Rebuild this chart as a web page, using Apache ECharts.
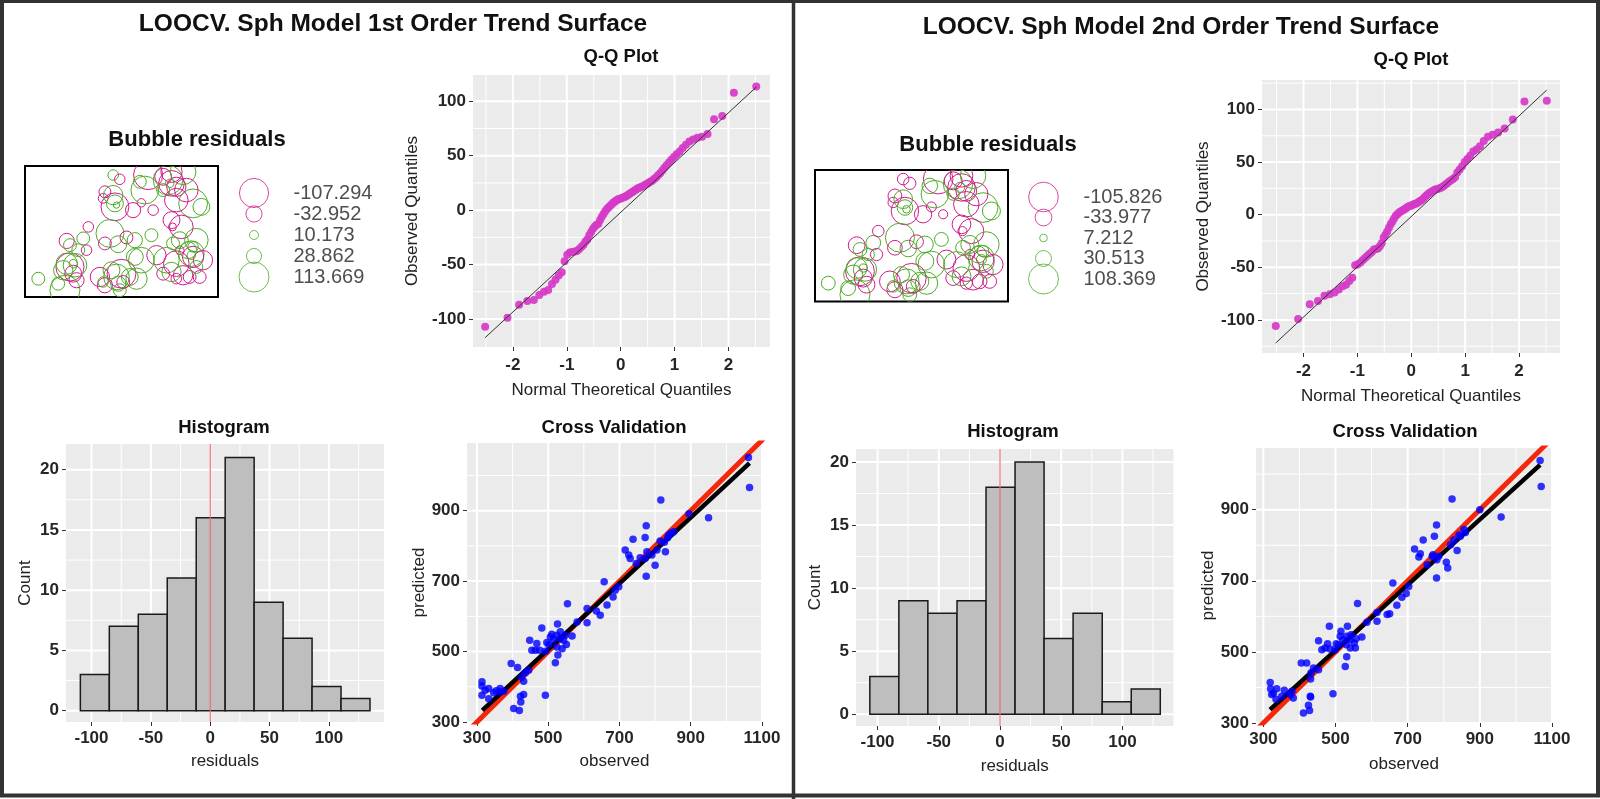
<!DOCTYPE html>
<html><head><meta charset="utf-8">
<script src="https://cdn.jsdelivr.net/npm/echarts@6.0.0/dist/echarts.min.js"></script>
<style>html,body{margin:0;padding:0;background:#fff}#c{width:1600px;height:799px}</style>
</head><body><div id="c"></div>
<script>
// ---------------- DATA ----------------
const TITLE_L = 'LOOCV. Sph Model 1st Order Trend Surface';
const TITLE_R = 'LOOCV. Sph Model 2nd Order Trend Surface';

// theoretical normal quantiles (n = 84)
const Q_THEO = [-2.515,-2.100,-1.884,-1.732,-1.611,-1.510,-1.423,-1.345,-1.274,-1.210,-1.150,-1.094,-1.041,-0.992,-0.944,-0.898,-0.854,-0.812,-0.772,-0.732,-0.693,-0.656,-0.619,-0.583,-0.548,-0.514,-0.480,-0.447,-0.414,-0.382,-0.350,-0.319,-0.287,-0.256,-0.226,-0.195,-0.165,-0.135,-0.105,-0.075,-0.045,-0.015,
0.015,0.045,0.075,0.105,0.135,0.165,0.195,0.226,0.256,0.287,0.319,0.350,0.382,0.414,0.447,0.480,0.514,0.548,0.583,0.619,0.656,0.693,0.732,0.772,0.812,0.854,0.898,0.944,0.992,1.041,1.094,1.150,1.210,1.274,1.345,1.423,1.510,1.611,1.732,1.884,2.100,2.515];

const QQ_OBS_L = [-107.3,-99,-87,-83.5,-82.5,-78,-75,-73.5,-68,-64,-60,-57,-47,-41,-39,-38.5,-38,-37.5,
-36,-34,-32,-29,-27,-23,-20,-17,-15,-13.5,-12.5,-9,-6,-3.5,-1,1,2.5,4,5.5,7,8,9,10,10.5,11,11.5,12,
13,14,15,16,17,18,19,20,20.5,21.5,22,23,24,25,26,27,28.5,30,32,34,36.5,39,41.5,44,46.5,49,51.5,54,57,60,
63,65,66.5,67.5,70,83.5,86.5,108,113.7];
const QQ_OBS_R = [-105.8,-99,-85,-82,-77,-75.5,-74,-71,-68,-66.5,-63,-60,-48,-47,-45.5,-43,-41,-39,-37,-35.5,
-33,-32.5,-32,-30,-27,-22,-19,-16,-12.5,-9,-6.5,-3.5,-1,0.5,2,3,4,5,6,7,8,8.5,9,10,10.5,11,12,
13,14,15.5,17,18.5,20,21,22,23,24,24.5,25,25.5,26.5,28,29.5,31,32.5,34,35.5,40,43,46,50,53,56,
60,62,65,70,74,76,78,82,90.5,107.5,108.4];
const QQ_LINE_L = [[-2.515,-117.2],[2.515,113.1]];
const QQ_LINE_R = [[-2.515,-121.9],[2.515,118.5]];

const HIST_EDGES_L = [-109.4,-85.0,-60.6,-36.2,-11.8,12.6,37.0,61.4,85.8,110.2,134.6];
const HIST_COUNTS_L = [3,7,8,11,16,21,9,6,2,1];
const HIST_EDGES_R = [-106.3,-82.6,-58.9,-35.1,-11.4,12.3,36.0,59.7,83.5,107.2,130.9];
const HIST_COUNTS_R = [3,9,8,9,18,20,6,8,1,2];
const HIST_REF = 0;

const CV_OBS_L = [1062,1065,816,895,950,775,772,738,844,835,826,716,730,747,772,791,805,800,829,775,657,698,682,665,646,609,609,554,526,482,510,524,534,543,551,567,515,501,448,464,476,492,527,520,396,414,445,436,426,431,314,314,314,333,333,354,365,492,431,423,403,419,422,506,534,548,539,524,496,454,468,365,323,347,375,814,852,838,758,726,688,635,581,777];
const CV_PRED_L = [1051,966,930,891,880,857,824,819,836,823,810,788,764,750,764,774,788,745,783,714,698,684,655,632,603,622,582,636,578,567,549,546,537,532,520,544,534,520,532,504,504,501,490,468,466,455,447,440,428,416,414,402,376,395,366,389,385,376,378,357,338,333,373,541,556,546,508,513,526,504,523,395,390,383,387,814,840,830,766,774,674,615,584,783];
const CV_OBS_R = [1067,1070,823,900,959,780,774,743,856,842,828,719,731,754,770,786,807,811,837,780,659,703,684,670,650,615,615,561,533,483,515,531,541,552,555,573,520,508,453,471,485,499,531,527,405,420,453,439,432,431,319,320,323,337,335,358,374,493,430,425,411,428,431,513,543,557,541,530,502,462,478,379,328,351,383,819,860,846,768,735,696,643,587,781];
const CV_PRED_R = [1038,965,930,900,879,857,825,815,844,829,815,789,767,745,773,769,752,736,785,708,694,684,654,631,607,611,586,636,572,572,558,544,534,525,511,542,534,520,531,511,508,506,486,459,469,469,450,455,441,424,414,396,380,396,367,392,380,382,375,350,328,335,373,544,548,537,511,520,523,506,523,389,384,375,370,801,836,825,769,776,664,605,583,759];
const CV_FIT_L = [[315,333],[1065,1035]];
const CV_FIT_R = [[318.5,337.5],[1067,1026]];
const CV_IDENTITY = [[250,250],[1150,1150]];

// bubble plot: sample locations (same for both models) and residuals
const BUB_X = [45.7,49.1,41.4,40.5,46.6,46.6,47.4,56.0,60.3,63.8,74.1,75.9,75.0,71.6,78.4,81.9,87.1,78.4,75.9,76.4,81.0,88.8,80.2,44.0,48.3,52.6,56.9,68.1,60.3,86.2,87.1,86.2,92.2,78.4,81.9,85.3,90.5,75.9,73.3,50.0,47.4,48.3,54.3,57.8,49.1,23.3,25.9,25.0,21.6,23.3,30.2,27.6,20.7,6.9,38.8,41.4,40.5,21.6,25.0,19.8,62.1,56.9,75.9,71.6,83.6,80.2,84.5,87.1,71.6,78.4,88.8,45.7,50.9,44.8,26.7,17.2,31.9,76.7,41.4,66.4,59.5,91.4,32.8,65.5];
const BUB_Y = [63.3,61.1,54.6,51.2,46.8,48.6,47.7,45.1,48.9,63.3,60.7,59.0,59.0,62.4,57.2,65.0,48.6,50.3,39.9,36.4,36.4,29.5,29.5,33.0,27.4,30.9,29.5,21.7,19.1,22.5,20.8,21.7,19.1,17.3,11.3,10.4,10.4,13.0,19.1,12.1,10.4,6.9,10.4,9.5,3.5,15.6,16.5,17.3,29.1,26.9,30.4,24.3,3.5,9.5,10.4,6.1,7.8,17.3,12.1,13.9,55.5,20.8,65.0,55.5,55.5,24.3,24.3,26.0,12.1,9.5,15.6,52.9,7.8,13.9,8.7,6.9,24.3,27.8,27.8,45.1,59.8,46.8,36.4,32.1];
const BUB_RES_L = [14,-14,-18,-12,-98,36,5,-29,-9,-107.3,110,-83,9,-36,-47,83,105,-70,-36,-8,-70,70,36,98,36,-21,29,-47,83,83,-57,9,-47,-83,-47,-21,-21,47,83,-105,83,29,36,57,21,-100,70,9,-29,21,21,21,113.7,21,-47,-29,14,57,-36,47,98,36,-57,21,-70,-9,36,14,-21,-14,21,47,-21,36,-29,21,-14,21,-21,-14,21,36,-14,21];
const BUB_RES_R = [-16,-18,-23,-13,-91,29,7,-36,-12,-105.8,104,-91,12,-39,-52,78,106,-78,-42,-10,-75,78,39,101,33,-23,34,-43,86,78,-60,12,-49,-86,-52,-26,-23,43,81,-104,75,33,39,60,23,-100,65,8,-34,23,26,18,108.4,23,-52,-31,16,52,-39,44,91,39,-62,18,-65,-12,34,16,-26,-18,23,42,-23,31,-34,26,-18,26,-26,-10,29,39,-16,23];
const BUB_LEG_L = [-107.294,-32.952,10.173,28.862,113.669];
const BUB_LEG_R = [-105.826,-33.977,7.212,30.513,108.369];

// tick values
const QQ_X_MAJOR = [-2,-1,0,1,2], QQ_X_MINOR = [-2.5,-1.5,-0.5,0.5,1.5,2.5];
const QQ_Y_MAJOR = [-100,-50,0,50,100], QQ_Y_MINOR_L = [-75,-25,25,75], QQ_Y_MINOR_R = [-125,-75,-25,25,75,125];
const HIST_X_MAJOR = [-100,-50,0,50,100], HIST_X_MINOR = [-75,-25,25,75,125];
const HIST_Y_MAJOR = [0,5,10,15,20], HIST_Y_MINOR = [2.5,7.5,12.5,17.5];
const CV_X_MAJOR = [300,500,700,900,1100], CV_X_MINOR = [400,600,800,1000];
const CV_Y_MAJOR = [300,500,700,900], CV_Y_MINOR = [400,600,800,1000];

// ---------------- STYLE / BUILD ----------------
const FONT = '"Liberation Sans", Arial, Helvetica, sans-serif';
const PINK = '#d01c8b', GREEN = '#4dac26';
const MAGENTA = '#D63AC8', BLUE = '#0000FF', RED = '#F5260A';
const grids = [], xAxes = [], yAxes = [], series = [];

function addGrid(r, extra) {
  grids.push(Object.assign({left: r[0], top: r[1], width: r[2], height: r[3], show: true,
    backgroundColor: '#EBEBEB', borderWidth: 0, containLabel: false, outerBoundsMode: 'none'}, extra || {}));
  return grids.length - 1;
}
function mainAxis(gi, pos, c) {
  return {type: 'value', gridIndex: gi, position: pos, min: c.min, max: c.max,
    axisLine: {show: false, onZero: false},
    axisTick: {show: true, length: 4, lineStyle: {color: '#333', width: 1}, customValues: c.major},
    axisLabel: {show: true, customValues: c.major, margin: c.margin, fontFamily: FONT, fontSize: 17,
      fontWeight: 'bold', color: '#262626', formatter: v => String(v)},
    splitLine: {show: false}, minorTick: {show: false}, minorSplitLine: {show: false},
    name: c.name, nameLocation: 'middle', nameGap: c.nameGap,
    nameTextStyle: {fontFamily: FONT, fontSize: 17, color: '#222'}};
}
function gridLineSeries(ax, xc, yc) {
  const items = [];
  xc.minor.forEach(v => items.push([0, v, 1]));
  yc.minor.forEach(v => items.push([1, v, 1]));
  xc.major.forEach(v => items.push([0, v, 2]));
  yc.major.forEach(v => items.push([1, v, 2]));
  return {type: 'custom', xAxisIndex: ax.x, yAxisIndex: ax.y, silent: true, z: 1, clip: true,
    data: items,
    renderItem: (p, api) => {
      const o = api.value(0), v = api.value(1), w = api.value(2);
      const a = o === 0 ? api.coord([v, yc.min]) : api.coord([xc.min, v]);
      const b = o === 0 ? api.coord([v, yc.max]) : api.coord([xc.max, v]);
      return {type: 'line', shape: {x1: a[0], y1: a[1], x2: b[0], y2: b[1]},
        style: {stroke: '#FFFFFF', lineWidth: w}};
    }};
}
function addPlot(rect, xc, yc) {
  const gi = addGrid(rect);
  const xi = xAxes.length; xAxes.push(mainAxis(gi, 'bottom', xc));
  const yi = yAxes.length; yAxes.push(mainAxis(gi, 'left', yc));
  const ax = {x: xi, y: yi};
  series.push(gridLineSeries(ax, xc, yc));
  return ax;
}
function addHidden(rect, xr, yr, extra, inverseY) {
  const gi = addGrid(rect, Object.assign({backgroundColor: 'rgba(0,0,0,0)', show: false}, extra || {}));
  const xi = xAxes.length; xAxes.push({type: 'value', gridIndex: gi, min: xr[0], max: xr[1], show: false, axisLine: {onZero: false}});
  const yi = yAxes.length; yAxes.push({type: 'value', gridIndex: gi, min: yr[0], max: yr[1], show: false, inverse: !!inverseY, axisLine: {onZero: false}});
  return {x: xi, y: yi};
}
function diam(v, maxAbs) { return 30 * Math.sqrt(Math.abs(v) / maxAbs); }

function bubblePanel(boxRect, legRect, res, leg) {
  const maxAbs = Math.max.apply(null, leg.map(Math.abs));
  const ax = addHidden(boxRect, [0, 100], [0, 68], {show: true, backgroundColor: '#fff', borderColor: '#000', borderWidth: 2});
  series.push({type: 'custom', xAxisIndex: ax.x, yAxisIndex: ax.y, clip: true, silent: true, z: 3,
    encode: {x: 0, y: 1},
    data: BUB_X.map((x, i) => [x, BUB_Y[i], res[i]]),
    renderItem: (p, api) => {
      const c = api.coord([api.value(0), api.value(1)]); const v = api.value(2);
      return {type: 'circle', shape: {cx: c[0], cy: c[1], r: diam(v, maxAbs) / 2},
        style: {fill: 'none', stroke: v < 0 ? PINK : GREEN, lineWidth: 1}};
    }});
  const lg = addHidden(legRect, [0, 1], [-0.5, 4.5], null, true);
  series.push({type: 'scatter', xAxisIndex: lg.x, yAxisIndex: lg.y, clip: false, silent: true,
    data: leg.map((v, i) => ({value: [0, i, v], symbolSize: diam(v, maxAbs),
      itemStyle: {color: 'rgba(0,0,0,0)', borderColor: v < 0 ? PINK : GREEN, borderWidth: 1}}))});
  series.push({type: 'scatter', xAxisIndex: lg.x, yAxisIndex: lg.y, clip: false, silent: true, symbolSize: 1,
    itemStyle: {color: 'rgba(0,0,0,0)'},
    label: {show: true, position: 'right', distance: 0, fontFamily: FONT, fontSize: 20, color: '#222',
      formatter: p => p.value[2].toFixed(3)},
    data: leg.map((v, i) => [1, i, v])});
}

function qqPanel(rect, xr, yr, yMinor, obs, line) {
  const ax = addPlot(rect,
    {min: xr[0], max: xr[1], major: QQ_X_MAJOR, minor: QQ_X_MINOR, margin: 10, name: 'Normal Theoretical Quantiles', nameGap: 35},
    {min: yr[0], max: yr[1], major: QQ_Y_MAJOR, minor: yMinor, margin: 7, name: 'Observed Quantiles', nameGap: yr[2]});
  series.push({type: 'scatter', xAxisIndex: ax.x, yAxisIndex: ax.y, symbolSize: 8, silent: true, z: 3,
    itemStyle: {color: MAGENTA, opacity: 0.92}, data: Q_THEO.map((q, i) => [q, obs[i]])});
  series.push({type: 'line', xAxisIndex: ax.x, yAxisIndex: ax.y, symbol: 'none', silent: true, z: 4,
    lineStyle: {color: '#333', width: 1}, data: line});
}

function histPanel(rect, xr, yr, edges, counts, gaps) {
  const ax = addPlot(rect,
    {min: xr[0], max: xr[1], major: HIST_X_MAJOR, minor: HIST_X_MINOR, margin: 8, name: 'residuals', nameGap: gaps[0]},
    {min: yr[0], max: yr[1], major: HIST_Y_MAJOR, minor: HIST_Y_MINOR, margin: 7, name: 'Count', nameGap: gaps[1]});
  series.push({type: 'custom', xAxisIndex: ax.x, yAxisIndex: ax.y, silent: true, z: 3,
    encode: {x: [0, 1], y: 2},
    data: counts.map((c, i) => [edges[i], edges[i + 1], c]),
    renderItem: (p, api) => {
      const a = api.coord([api.value(0), api.value(2)]);
      const b = api.coord([api.value(1), 0]);
      return {type: 'rect', shape: {x: a[0], y: a[1], width: b[0] - a[0], height: b[1] - a[1]},
        style: {fill: '#BEBEBE', stroke: '#1a1a1a', lineWidth: 1.5}};
    }});
  series.push({type: 'line', xAxisIndex: ax.x, yAxisIndex: ax.y, symbol: 'none', silent: true, z: 5,
    lineStyle: {color: '#EE6A74', width: 1.2}, data: [[HIST_REF, yr[0]], [HIST_REF, yr[1]]]});
}

function cvPanel(rect, xr, yr, obs, pred, fit, gaps) {
  const ax = addPlot(rect,
    {min: xr[0], max: xr[1], major: CV_X_MAJOR, minor: CV_X_MINOR, margin: 8, name: 'observed', nameGap: gaps[0]},
    {min: yr[0], max: yr[1], major: CV_Y_MAJOR, minor: CV_Y_MINOR, margin: 7, name: 'predicted', nameGap: gaps[1]});
  series.push({type: 'line', xAxisIndex: ax.x, yAxisIndex: ax.y, symbol: 'none', silent: true, z: 3, clip: true,
    lineStyle: {color: RED, width: 5}, data: CV_IDENTITY});
  series.push({type: 'line', xAxisIndex: ax.x, yAxisIndex: ax.y, symbol: 'none', silent: true, z: 4, clip: true,
    lineStyle: {color: '#000', width: 4.5}, data: fit});
  series.push({type: 'scatter', xAxisIndex: ax.x, yAxisIndex: ax.y, symbolSize: 7.5, silent: true, z: 5,
    itemStyle: {color: BLUE}, data: obs.map((o, i) => [o, pred[i]])});
}

// left figure
bubblePanel([25, 166, 193, 131], [254, 182.5, 39, 105], BUB_RES_L, BUB_LEG_L);
qqPanel([473, 75, 297, 272], [-2.74, 2.77], [-125.8, 124.2, 52], QQ_Y_MINOR_L, QQ_OBS_L, QQ_LINE_L);
histPanel([66, 444, 318, 278], [-121.5, 146.4], [-0.94, 22.13], HIST_EDGES_L, HIST_COUNTS_L, [31, 32]);
cvPanel([467, 443, 295, 279], [272, 1100], [300, 1092], CV_OBS_L, CV_PRED_L, CV_FIT_L, [31, 37]);
// right figure
bubblePanel([815, 170, 193, 131.5], [1043.5, 186.75, 39.5, 102.5], BUB_RES_R, BUB_LEG_R);
qqPanel([1262, 80, 298, 273], [-2.77, 2.76], [-131.4, 128, 50], QQ_Y_MINOR_R, QQ_OBS_R, QQ_LINE_R);
histPanel([856, 449, 317.5, 277], [-117.6, 141.7], [-0.93, 21.03], HIST_EDGES_R, HIST_COUNTS_R, [32, 32]);
cvPanel([1256, 448, 296, 275], [279.6, 1100], [300, 1073.4], CV_OBS_R, CV_PRED_R, CV_FIT_R, [33, 39]);

function txt(t, x, y, size, weight) {
  return {type: 'text', x: x, y: y, z: 50, silent: true,
    style: {text: t, fontFamily: FONT, fontSize: size, fontWeight: weight || 'bold', fill: '#111',
      align: 'center', verticalAlign: 'middle'}};
}
const graphic = [
  {type: 'rect', z: 100, silent: true, shape: {x: 2, y: 1, width: 1596, height: 794.5},
    style: {fill: 'none', stroke: '#333', lineWidth: 4}},
  {type: 'line', z: 100, silent: true, shape: {x1: 793.5, y1: 0, x2: 793.5, y2: 799},
    style: {stroke: '#333', lineWidth: 3.5}},
  txt(TITLE_L, 393, 24, 24.5), txt(TITLE_R, 1181, 27, 24.5),
  txt('Bubble residuals', 197, 140, 22), txt('Bubble residuals', 988, 145, 22),
  txt('Q-Q Plot', 621, 57, 18.5), txt('Q-Q Plot', 1411, 60, 18.5),
  txt('Histogram', 224, 428, 18.5), txt('Histogram', 1013, 432, 18.5),
  txt('Cross Validation', 614, 428, 18.5), txt('Cross Validation', 1405, 432, 18.5)
];

const chart = echarts.init(document.getElementById('c'), null, {renderer: 'canvas'});
chart.setOption({animation: false, backgroundColor: '#fff', grid: grids, xAxis: xAxes, yAxis: yAxes,
  series: series, graphic: graphic});
</script></body></html>
